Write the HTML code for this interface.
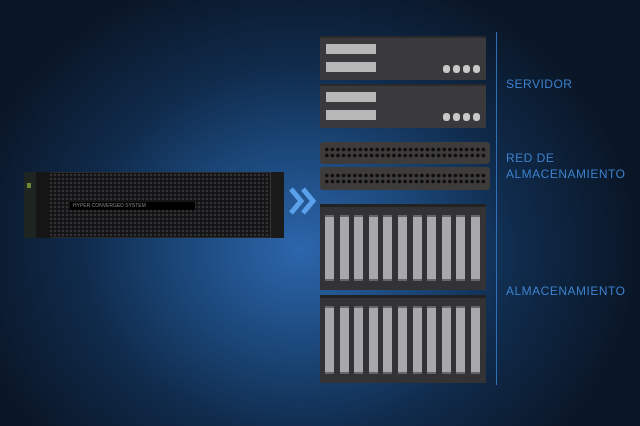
<!DOCTYPE html>
<html><head><style>
*{margin:0;padding:0;box-sizing:border-box}
body{width:640px;height:426px;overflow:hidden;position:relative;font-family:"Liberation Sans",sans-serif;
background:radial-gradient(ellipse 340px 290px at 300px 250px,#2c66ac 0%,#1b4779 35%,#0f2a4a 65%,#0a1626 100%);}
.a{position:absolute}
.srv{background:#3a3a3c;border-top:2px solid #2a2a2c;border-radius:2px}
.bar{position:absolute;left:6px;width:50px;height:10px;background:#b8b8b8}
.dot{position:absolute;width:7px;height:8px;border-radius:3px;background:#c8c8c8}
.sw{background:#3e3b3b;border-radius:3px}
.row{position:absolute;left:4px;right:4px;height:5px;background-image:radial-gradient(circle,#0d0d0d 1.6px,transparent 2px);background-size:5.6px 5px}
.st{background:#333335;border-top:3px solid #222}
.bay{position:absolute;top:8px;width:9px;background:#a8a8aa;border-top:2px solid #666;border-bottom:2px solid #666}
.lbl{color:#3d82cf;font-size:12px;letter-spacing:0.5px;line-height:16px}
</style></head><body>
<div class="a" style="left:24px;top:172px;width:260px;height:66px;background:#141416;background-image:radial-gradient(circle,#333335 1.1px,transparent 1.4px);background-size:4px 4px;border:1px solid #2a2a2a"></div>
<div class="a" style="left:24px;top:172px;width:12px;height:66px;background:#1e2420"></div>
<div class="a" style="left:27px;top:183px;width:4px;height:5px;background:#6a8a3a"></div>
<div class="a" style="left:36px;top:172px;width:14px;height:66px;background:#151515"></div>
<div class="a" style="left:270px;top:172px;width:14px;height:66px;background:#1a1a1a;border-left:1px solid #333"></div>
<div class="a" style="left:70px;top:202px;width:125px;height:8px;background:#000;color:#888;font-size:5px;line-height:8px;padding-left:3px">HYPER CONVERGED SYSTEM</div>
<svg class="a" style="left:288px;top:186px" width="30" height="30"><polyline points="3,3 13,15 3,27" fill="none" stroke="#5aa0ea" stroke-width="5"/><polyline points="15,3 25,15 15,27" fill="none" stroke="#5aa0ea" stroke-width="5"/></svg>
<div class="a srv" style="left:320px;top:36px;width:166px;height:44px"><div class="bar" style="top:6px"></div><div class="bar" style="top:24px"></div>
<div class="dot" style="left:123px;top:27px"></div><div class="dot" style="left:133px;top:27px"></div><div class="dot" style="left:143px;top:27px"></div><div class="dot" style="left:153px;top:27px"></div></div>
<div class="a srv" style="left:320px;top:84px;width:166px;height:44px"><div class="bar" style="top:6px"></div><div class="bar" style="top:24px"></div>
<div class="dot" style="left:123px;top:27px"></div><div class="dot" style="left:133px;top:27px"></div><div class="dot" style="left:143px;top:27px"></div><div class="dot" style="left:153px;top:27px"></div></div>
<div class="a sw" style="left:320px;top:142px;width:170px;height:22px"><div class="row" style="top:5px"></div><div class="row" style="top:11px"></div></div>
<div class="a sw" style="left:320px;top:167px;width:170px;height:23px"><div class="row" style="top:6px"></div><div class="row" style="top:12px"></div></div>
<div class="a st" id="s1" style="left:320px;top:204px;width:166px;height:86px"></div>
<div class="a st" id="s2" style="left:320px;top:295px;width:166px;height:88px"></div>
<div class="a" style="left:496px;top:32px;width:1px;height:353px;background:#2f6fb5"></div>
<div class="a lbl" style="left:506px;top:76px">SERVIDOR</div>
<div class="a lbl" style="left:506px;top:150px">RED DE</div>
<div class="a lbl" style="left:506px;top:166px">ALMACENAMIENTO</div>
<div class="a lbl" style="left:506px;top:283px">ALMACENAMIENTO</div>
<script>
['s1','s2'].forEach(function(id){var s=document.getElementById(id);var h=s.offsetHeight-20;
for(var i=0;i<11;i++){var b=document.createElement('div');b.className='bay';b.style.left=(5+i*14.6)+'px';b.style.height=h+'px';s.appendChild(b);}});
</script>
</body></html>
